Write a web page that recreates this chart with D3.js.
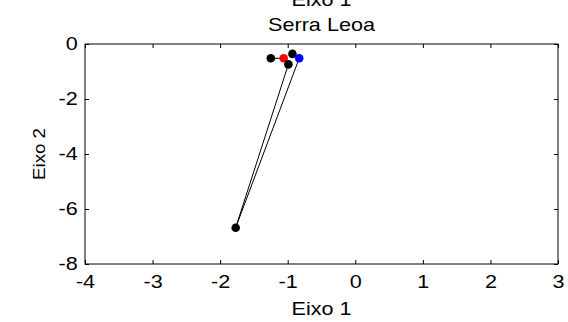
<!DOCTYPE html>
<html lang="en">
  <head>
    <meta charset="utf-8">
    <title>Serra Leoa</title>
    <script src="https://d3js.org/d3.v7.min.js"></script>
    <style>
      body { margin: 0; background: #fff; }
      text { font-family: "Liberation Sans", Arial, sans-serif; fill: #000; }
    </style>
  </head>

  <body>
  <script>

  // data
  var pointX = [-1.25, -1.06, -0.93, -0.99, -0.83, -1.77];
  var pointY = [-0.52, -0.52, -0.36, -0.74, -0.52, -6.68];
  var pointColor = ["black", "red", "black", "black", "blue", "black"];
  var links = [[5, 3], [5, 4], [0, 1]];   // index pairs
  var xTicks = [-4, -3, -2, -1, 0, 1, 2, 3];
  var yTicks = [0, -2, -4, -6, -8];

  var w = 568, h = 322;
  var m = {left: 85, right: 10, top: 44, bottom: 58};
  var fs = "18px", sx = 1.2;   // text in the picture is a bit stretched sideways

  var svg = d3.select("body").append("svg")
      .attr("width", w)
      .attr("height", h);

  var x = d3.scaleLinear().domain([-4, 3]).range([m.left, w - m.right]);
  var y = d3.scaleLinear().domain([-8, 0]).range([h - m.bottom, m.top]);

  // axes, MATLAB style: ticks inward, box all around
  svg.append("g")
      .attr("transform", "translate(0," + (h - m.bottom) + ")")
      .call(d3.axisBottom(x).tickValues(xTicks).tickSize(-4).tickPadding(11).tickFormat(d => String(d)));
  svg.append("g")
      .attr("transform", "translate(0," + m.top + ")")
      .call(d3.axisTop(x).tickValues(xTicks).tickSize(-4).tickFormat(""));
  svg.append("g")
      .attr("transform", "translate(" + m.left + ",0)")
      .call(d3.axisLeft(y).tickValues(yTicks).tickSize(-4).tickPadding(6).tickFormat(d => String(d)));
  svg.append("g")
      .attr("transform", "translate(" + (w - m.right) + ",0)")
      .call(d3.axisRight(y).tickValues(yTicks).tickSize(-4).tickFormat(""));

  svg.selectAll(".domain").remove();
  svg.selectAll(".tick text")
      .style("font-size", fs)
      .attr("transform", "scale(" + sx + ",1)");
  svg.selectAll(".tick line").attr("stroke", "#000");

  svg.append("rect")
      .attr("x", m.left).attr("y", m.top)
      .attr("width", w - m.left - m.right)
      .attr("height", h - m.top - m.bottom)
      .attr("fill", "none").attr("stroke", "#000");

  // links
  svg.selectAll("line.link")
      .data(links)
    .enter().append("line")
      .attr("class", "link")
      .attr("x1", d => x(pointX[d[0]]))
      .attr("y1", d => y(pointY[d[0]]))
      .attr("x2", d => x(pointX[d[1]]))
      .attr("y2", d => y(pointY[d[1]]))
      .attr("stroke", "#000")
      .attr("stroke-width", 1);

  // points
  svg.selectAll("circle")
      .data(pointX)
    .enter().append("circle")
      .attr("cx", d => x(d))
      .attr("cy", (d, i) => y(pointY[i]))
      .attr("r", 4.3)
      .attr("fill", (d, i) => pointColor[i]);

  // titles
  function label(tx, ty, rot, txt, size, s) {
    svg.append("text")
        .attr("transform", "translate(" + tx + "," + ty + ") rotate(" + rot + ") scale(" + (s || sx) + ",1)")
        .attr("text-anchor", "middle").style("font-size", size || fs)
        .text(txt);
  }
  var cx = (m.left + w - m.right) / 2;
  label(cx, 6, 0, "Eixo 1");
  label(cx, 31, 0, "Serra Leoa");
  label(cx, 315, 0, "Eixo 1");
  label(45, (m.top + h - m.bottom) / 2, -90, "Eixo 2", "17px", 1.1);

  </script>
  </body>
</html>
